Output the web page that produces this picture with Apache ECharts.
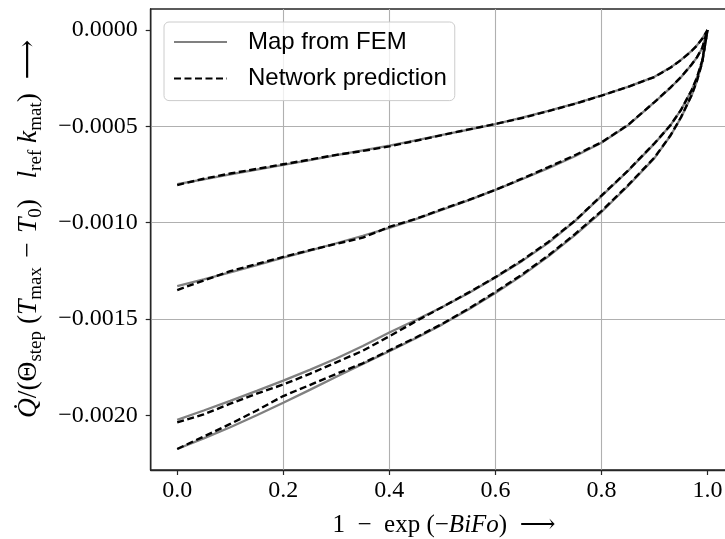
<!DOCTYPE html>
<html>
<head>
<meta charset="utf-8">
<script src="https://cdn.jsdelivr.net/npm/echarts@6/dist/echarts.min.js"></script>
<style>html,body{margin:0;padding:0;background:#fff;overflow:hidden}#c{width:725px;height:539px}</style>
</head>
<body>
<div id="c"></div>
<script>
// ---- data ----
const xs = [0, 0.05, 0.1, 0.15, 0.2, 0.25, 0.3, 0.35, 0.4, 0.45, 0.5, 0.55, 0.6, 0.65, 0.7, 0.75, 0.8, 0.85, 0.9, 0.93, 0.95, 0.97, 0.98, 0.99, 1.0];

const femA = [-0.000800, -0.000775, -0.000750, -0.000725, -0.000700, -0.000675, -0.000650, -0.000625, -0.000600, -0.000573, -0.000545, -0.000517, -0.000488, -0.000455, -0.000420, -0.000382, -0.000340, -0.000295, -0.000243, -0.000195, -0.000155, -0.000108, -0.000080, -0.000045, 0];
const netA = [-0.000805, -0.000772, -0.000745, -0.000721, -0.000697, -0.000673, -0.000648, -0.000628, -0.000604, -0.000575, -0.000545, -0.000516, -0.000488, -0.000457, -0.000421, -0.000383, -0.000341, -0.000295, -0.000244, -0.000196, -0.000156, -0.000109, -0.000081, -0.000046, 0];

const femB = [-0.001330, -0.001295, -0.001258, -0.001220, -0.001182, -0.001145, -0.001107, -0.001068, -0.001027, -0.000982, -0.000933, -0.000883, -0.000830, -0.000775, -0.000717, -0.000655, -0.000585, -0.000495, -0.000375, -0.000300, -0.000245, -0.000180, -0.000143, -0.000095, 0];
const netB = [-0.001350, -0.001300, -0.001252, -0.001215, -0.001178, -0.001143, -0.001110, -0.001078, -0.001022, -0.000980, -0.000930, -0.000882, -0.000830, -0.000772, -0.000712, -0.000650, -0.000583, -0.000493, -0.000374, -0.000299, -0.000244, -0.000179, -0.000142, -0.000094, 0];

const femC = [-0.002024, -0.001975, -0.001925, -0.001873, -0.001820, -0.001764, -0.001705, -0.001640, -0.001570, -0.001505, -0.001438, -0.001365, -0.001285, -0.001200, -0.001105, -0.000992, -0.000862, -0.000732, -0.000590, -0.000495, -0.000415, -0.000313, -0.000248, -0.000160, 0];
const netC = [-0.002037, -0.001995, -0.001940, -0.001888, -0.001840, -0.001785, -0.001725, -0.001665, -0.001590, -0.001512, -0.001438, -0.001362, -0.001283, -0.001196, -0.001100, -0.000990, -0.000860, -0.000730, -0.000588, -0.000495, -0.000415, -0.000313, -0.000248, -0.000160, 0];

const femD = [-0.002175, -0.002120, -0.002062, -0.002000, -0.001935, -0.001868, -0.001800, -0.001733, -0.001668, -0.001600, -0.001528, -0.001450, -0.001365, -0.001275, -0.001175, -0.001065, -0.000945, -0.000810, -0.000665, -0.000550, -0.000455, -0.000340, -0.000265, -0.000170, 0];
const netD = [-0.002175, -0.002110, -0.002045, -0.001975, -0.001900, -0.001843, -0.001785, -0.001730, -0.001663, -0.001596, -0.001525, -0.001446, -0.001360, -0.001270, -0.001170, -0.001060, -0.000940, -0.000806, -0.000662, -0.000548, -0.000453, -0.000339, -0.000264, -0.000169, 0];

const xTicks = [0, 0.2, 0.4, 0.6, 0.8, 1.0];
const yTicks = [0, -0.0005, -0.0010, -0.0015, -0.0020];
const femName = 'Map from FEM';
const netName = 'Network prediction';

// ---- chart ----
const pairs = (ys) => xs.map((x, i) => [x, ys[i]]);
const serif = "'Liberation Serif', 'DejaVu Serif', serif";
const sans = "'Liberation Sans', 'DejaVu Sans', sans-serif";

const femStyle = { color: '#808080', width: 2.3, type: 'solid' };
const netStyle = { color: '#000000', width: 2.4, type: [7, 3.5] };

function femSeries(ys) {
  return { name: femName, type: 'line', data: pairs(ys), showSymbol: false, symbol: 'none',
    lineStyle: femStyle, itemStyle: { color: '#808080' }, z: 2, silent: true };
}
function netSeries(ys) {
  return { name: netName, type: 'line', data: pairs(ys), showSymbol: false, symbol: 'none',
    lineStyle: netStyle, itemStyle: { color: '#000000' }, z: 3, silent: true };
}

const chart = echarts.init(document.getElementById('c'), null, { renderer: 'canvas' });
chart.setOption({
  animation: false,
  backgroundColor: '#ffffff',
  grid: { left: 150.7, top: 9, right: -9, bottom: 69, outerBoundsMode: 'none', containLabel: false,
    show: true, borderColor: '#262626', borderWidth: 1.4 },
  legend: {
    left: 164, top: 22, orient: 'vertical',
    data: [femName, netName],
    itemWidth: 53, itemHeight: 14, itemGap: 10.6,
    padding: [7, 8, 9, 9],
    itemStyle: { opacity: 0 },
    backgroundColor: 'rgba(255,255,255,0.8)', borderColor: '#cccccc', borderWidth: 1, borderRadius: 5,
    textStyle: { fontFamily: sans, fontSize: 24, color: '#000', lineHeight: 26, padding: [0, 0, 0, 16] },
    selectedMode: false
  },
  xAxis: {
    type: 'value', min: -0.05, max: 1.05, splitNumber: 5,
    axisLine: { show: true, onZero: false, lineStyle: { color: '#262626', width: 1.4 } },
    axisTick: { show: true, inside: false, length: 5, customValues: xTicks, lineStyle: { color: '#262626', width: 1.2 } },
    axisLabel: { customValues: xTicks, margin: 9, fontFamily: serif, fontSize: 24, color: '#000',
      formatter: (v) => v.toFixed(1) },
    splitLine: { show: true, showMinLine: false, showMaxLine: false, lineStyle: { color: '#b0b0b0', width: 1.1 } }
  },
  yAxis: {
    type: 'value', min: -0.002284, max: 0.000109, splitNumber: 5,
    axisLine: { show: true, onZero: false, lineStyle: { color: '#262626', width: 1.4 } },
    axisTick: { show: true, inside: false, length: 5, customValues: yTicks, lineStyle: { color: '#262626', width: 1.2 } },
    axisLabel: { customValues: yTicks, margin: 13, fontFamily: serif, fontSize: 24, color: '#000',
      formatter: (v) => (v < 0 ? '\u2212' : '') + Math.abs(v).toFixed(4) },
    splitLine: { show: true, showMinLine: false, showMaxLine: false, lineStyle: { color: '#b0b0b0', width: 1.1 } }
  },
  graphic: [
    {
      type: 'text', x: 444, y: 525,
      style: {
        text: '{n|1\u2002\u2212\u2002exp (\u2212}{i|BiFo}{n|)\u2002\u27F6}',
        align: 'center', verticalAlign: 'middle',
        rich: {
          n: { fontFamily: serif, fontSize: 25, fill: '#000' },
          i: { fontFamily: serif, fontSize: 25, fontStyle: 'italic', fill: '#000' }
        }
      }
    },
    {
      type: 'text', x: 29, y: 229, rotation: Math.PI / 2,
      style: {
        text: '{i|Q\u0307}{n|/(\u0398}{s|step}{n| (}{i|T}{s|max}{n|\u2004\u2212\u2004}{i|T}{s|0}{n|)\u2002 }{i|l}{s|ref}{n| }{i|k}{s|mat}{n|)\u2002\u27F6}',
        align: 'center', verticalAlign: 'middle',
        rich: {
          n: { fontFamily: serif, fontSize: 27.5, fill: '#000', lineHeight: 34, verticalAlign: 'middle' },
          i: { fontFamily: serif, fontSize: 27.5, fontStyle: 'italic', fill: '#000', lineHeight: 34, verticalAlign: 'middle' },
          s: { fontFamily: serif, fontSize: 19, fill: '#000', lineHeight: 22, verticalAlign: 'bottom' }
        }
      }
    }
  ],
  series: [
    femSeries(femA), netSeries(netA),
    femSeries(femB), netSeries(netB),
    femSeries(femC), netSeries(netC),
    femSeries(femD), netSeries(netD)
  ]
});
</script>
</body>
</html>
